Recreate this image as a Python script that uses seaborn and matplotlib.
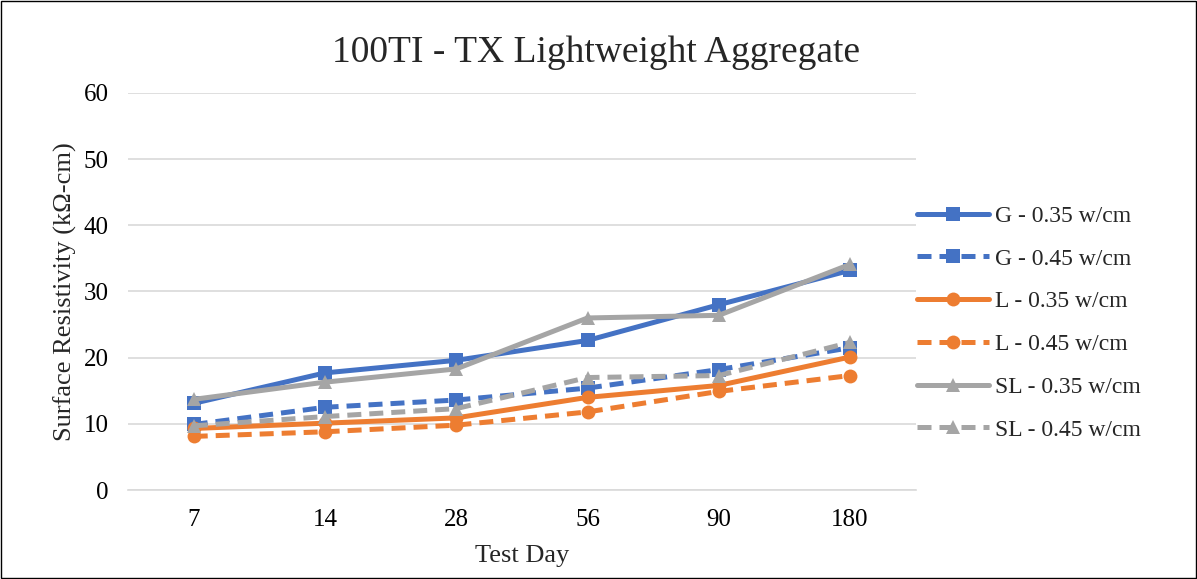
import numpy as np
import pandas as pd
import matplotlib
matplotlib.use("Agg")
import matplotlib.pyplot as plt
import seaborn as sns

# dados
dias = ["7", "14", "28", "56", "90", "180"]
g_035 = [13.1, 17.7, 19.6, 22.6, 28.0, 33.2]
g_045 = [9.9, 12.5, 13.6, 15.4, 18.2, 21.5]
l_035 = [9.3, 10.1, 10.9, 14.0, 15.8, 20.1]
l_045 = [8.1, 8.8, 9.8, 11.8, 14.9, 17.3]
sl_035 = [13.7, 16.3, 18.3, 26.0, 26.4, 34.1]
sl_045 = [9.7, 11.1, 12.3, 17.0, 17.3, 22.3]

nomes = ["G - 0.35 w/cm", "G - 0.45 w/cm", "L - 0.35 w/cm",
         "L - 0.45 w/cm", "SL - 0.35 w/cm", "SL - 0.45 w/cm"]
series = [g_035, g_045, l_035, l_045, sl_035, sl_045]

linhas = []
for nome, vals in zip(nomes, series):
    for i, v in enumerate(vals):
        linhas.append({"pos": i, "valor": v, "serie": nome})
df = pd.DataFrame(linhas)

azul, laranja, cinza = "#4472C4", "#ED7D31", "#A5A5A5"
cores = dict(zip(nomes, [azul, azul, laranja, laranja, cinza, cinza]))
marcadores = dict(zip(nomes, ["s", "s", "o", "o", "^", "^"]))
tracos = dict(zip(nomes, ["", (2.8, 1.6), "", (2.8, 1.6), "", (2.8, 1.6)]))

sns.set_style("white")
plt.rcParams["font.family"] = ["Liberation Serif", "DejaVu Serif"]

fig = plt.figure(figsize=(11.97, 5.79), dpi=100)
ax = fig.add_axes([0.107, 0.1537, 0.658, 0.6857])

sns.lineplot(data=df, x="pos", y="valor", hue="serie", style="serie",
             palette=cores, markers=marcadores, dashes=tracos,
             linewidth=3.6, markersize=10, markeredgewidth=0, ax=ax,
             legend=True)

ax.set_xlim(-0.5, 5.5)
ax.set_ylim(0, 60)
ax.set_yticks(range(0, 61, 10))
ax.set_xticks(range(len(dias)))
ax.set_xticklabels(dias)
ax.yaxis.grid(True, color="#D9D9D9", linewidth=1.2)
ax.xaxis.grid(False)
for lado in ["top", "right", "left"]:
    ax.spines[lado].set_visible(False)
ax.spines["bottom"].set_color("#D9D9D9")
ax.spines["bottom"].set_linewidth(1.2)
ax.tick_params(axis="both", length=0, labelsize=18, colors="black")
ax.tick_params(axis="y", pad=14)
ax.tick_params(axis="x", pad=14)
ax.set_xlabel("Test Day", fontsize=19, labelpad=10)
ax.set_ylabel("Surface Resistivity (kΩ-cm)", fontsize=19, labelpad=5)

handles, labels = ax.get_legend_handles_labels()
ax.get_legend().remove()
fig.legend(handles, labels, loc="center left",
           bbox_to_anchor=(917 / 1197, 1 - 323 / 579), frameon=False,
           fontsize=17, handlelength=3.05, handletextpad=0.25,
           labelspacing=0.9, borderpad=0, borderaxespad=0)

fig.suptitle("100TI - TX Lightweight Aggregate", fontsize=27, x=0.498, y=0.938)

fig.patches.append(plt.Rectangle((0.001, 0.001), 0.998, 0.997,
                                 transform=fig.transFigure, fill=False,
                                 edgecolor="black", linewidth=1))

fig.savefig("out.png", dpi=100)
